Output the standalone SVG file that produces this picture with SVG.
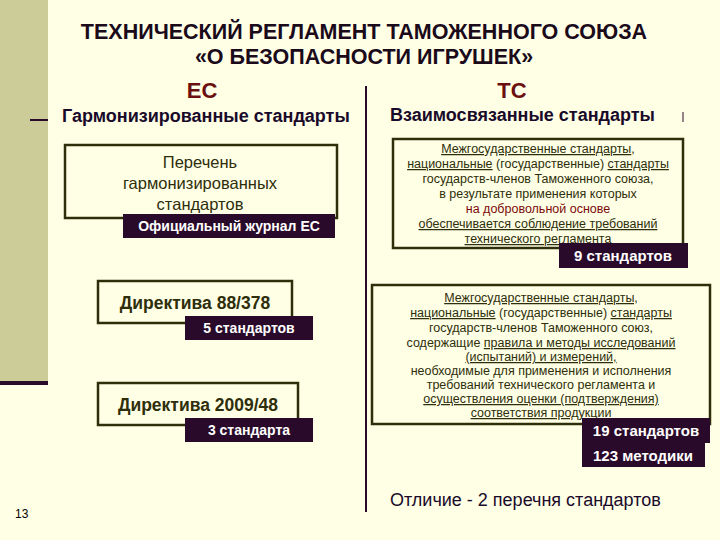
<svg xmlns="http://www.w3.org/2000/svg" width="720" height="540" viewBox="0 0 720 540">
<style>
text{font-family:"Liberation Sans",Arial,sans-serif;}
.t{font-weight:bold;font-size:21.5px;fill:#1a0a1a;text-anchor:middle}
.h{font-weight:bold;font-size:22px;fill:#6b1010;text-anchor:middle}
.s{font-size:18px;fill:#1a0a2a;font-weight:bold}
.box{fill:none;stroke:#2e2e0a;stroke-width:2.5}
.lab{fill:#2a0a2a}
.lt{font-size:14px;fill:#fff;font-weight:bold;text-anchor:middle}
.bt{font-size:16.5px;fill:#2e2e0a;text-anchor:middle}
.sm{font-size:12.5px;fill:#2e2e0a;text-anchor:middle}
.u{text-decoration:underline}
</style>
<rect width="720" height="540" fill="#ffffe6"/>
<rect x="0" y="0" width="48" height="383" fill="#cccc99"/>
<rect x="0" y="381" width="48" height="4" fill="#2a0a2a"/>
<line x1="30" y1="120" x2="48" y2="120" stroke="#2a0a2a" stroke-width="2"/>
<line x1="683" y1="112" x2="683" y2="122" stroke="#2a0a2a" stroke-width="1"/>
<text class="t" x="364" y="39">ТЕХНИЧЕСКИЙ РЕГЛАМЕНТ ТАМОЖЕННОГО СОЮЗА</text>
<text class="t" x="364" y="64">«О БЕЗОПАСНОСТИ ИГРУШЕК»</text>
<text class="h" x="202" y="98">ЕС</text>
<text class="h" x="512" y="98">ТС</text>
<text class="s" x="62" y="122">Гармонизированные стандарты</text>
<text class="s" x="390" y="121">Взаимосвязанные стандарты</text>
<g id="connectors"><line x1="366" y1="86" x2="366" y2="512" stroke="#2a0a2a" stroke-width="2"/></g>
<g id="eu-list">
<rect class="box" x="65" y="145" width="272" height="73"/>
<text class="bt" x="200" y="168">Перечень</text>
<text class="bt" x="200" y="189">гармонизированных</text>
<text class="bt" x="200" y="210">стандартов</text>
<rect class="lab" x="123" y="214" width="212" height="24"/>
<text class="lt" x="229" y="231">Официальный журнал ЕС</text>
</g>
<g id="dir1">
<rect class="box" x="98" y="281" width="194" height="42"/>
<text class="bt" x="195" y="309" style="font-size:17.5px;font-weight:bold">Директива 88/378</text>
<rect class="lab" x="185" y="316" width="128" height="24"/>
<text class="lt" x="249" y="333">5 стандартов</text>
</g>
<g id="dir2">
<rect class="box" x="98" y="383" width="200" height="42"/>
<text class="bt" x="198" y="411" style="font-size:17.5px;font-weight:bold">Директива 2009/48</text>
<rect class="lab" x="185" y="418" width="128" height="24"/>
<text class="lt" x="249" y="435">3 стандарта</text>
</g>
<g id="ts1">
<rect class="box" x="393" y="139" width="290" height="109"/>
<text class="sm" x="538" y="153"><tspan class="u">Межгосударственные стандарты</tspan>,</text>
<text class="sm" x="538" y="168"><tspan class="u">национальные</tspan> (государственные) <tspan class="u">стандарты</tspan></text>
<text class="sm" x="538" y="183">государств-членов Таможенного союза,</text>
<text class="sm" x="538" y="198">в результате применения которых</text>
<text class="sm" x="538" y="213" style="fill:#7a0a0a">на добровольной основе</text>
<text class="sm u" x="538" y="228">обеспечивается соблюдение требований</text>
<text class="sm u" x="538" y="243">технического регламента</text>
<rect class="lab" x="559" y="243" width="129" height="25"/>
<text class="lt" x="623" y="261" style="font-size:15px">9 стандартов</text>
</g>
<g id="ts2">
<rect class="box" x="372" y="285" width="338" height="139"/>
<text class="sm" x="541" y="302"><tspan class="u">Межгосударственные стандарты,</tspan></text>
<text class="sm" x="541" y="317"><tspan class="u">национальные</tspan> (государственные) <tspan class="u">стандарты</tspan></text>
<text class="sm" x="541" y="332">государств-членов Таможенного союз,</text>
<text class="sm" x="541" y="347">содержащие <tspan class="u">правила и методы исследований</tspan></text>
<text class="sm u" x="541" y="361">(испытаний) и измерений,</text>
<text class="sm" x="541" y="375">необходимые для применения и исполнения</text>
<text class="sm" x="541" y="389">требований технического регламента и</text>
<text class="sm u" x="541" y="403">осуществления оценки (подтверждения)</text>
<text class="sm u" x="541" y="417">соответствия продукции</text>
<rect class="lab" x="582" y="418" width="128" height="25"/>
<text class="lt" x="646" y="436" style="font-size:15px">19 стандартов</text>
<rect class="lab" x="582" y="443" width="123" height="24"/>
<text class="lt" x="643" y="461" style="font-size:15px">123 методики</text>
</g>
<text x="390" y="506" style="font-size:18px;fill:#1a0a2a">Отличие - 2 перечня стандартов</text>
<text x="15" y="518" style="font-size:12px;fill:#000">13</text>
</svg>
